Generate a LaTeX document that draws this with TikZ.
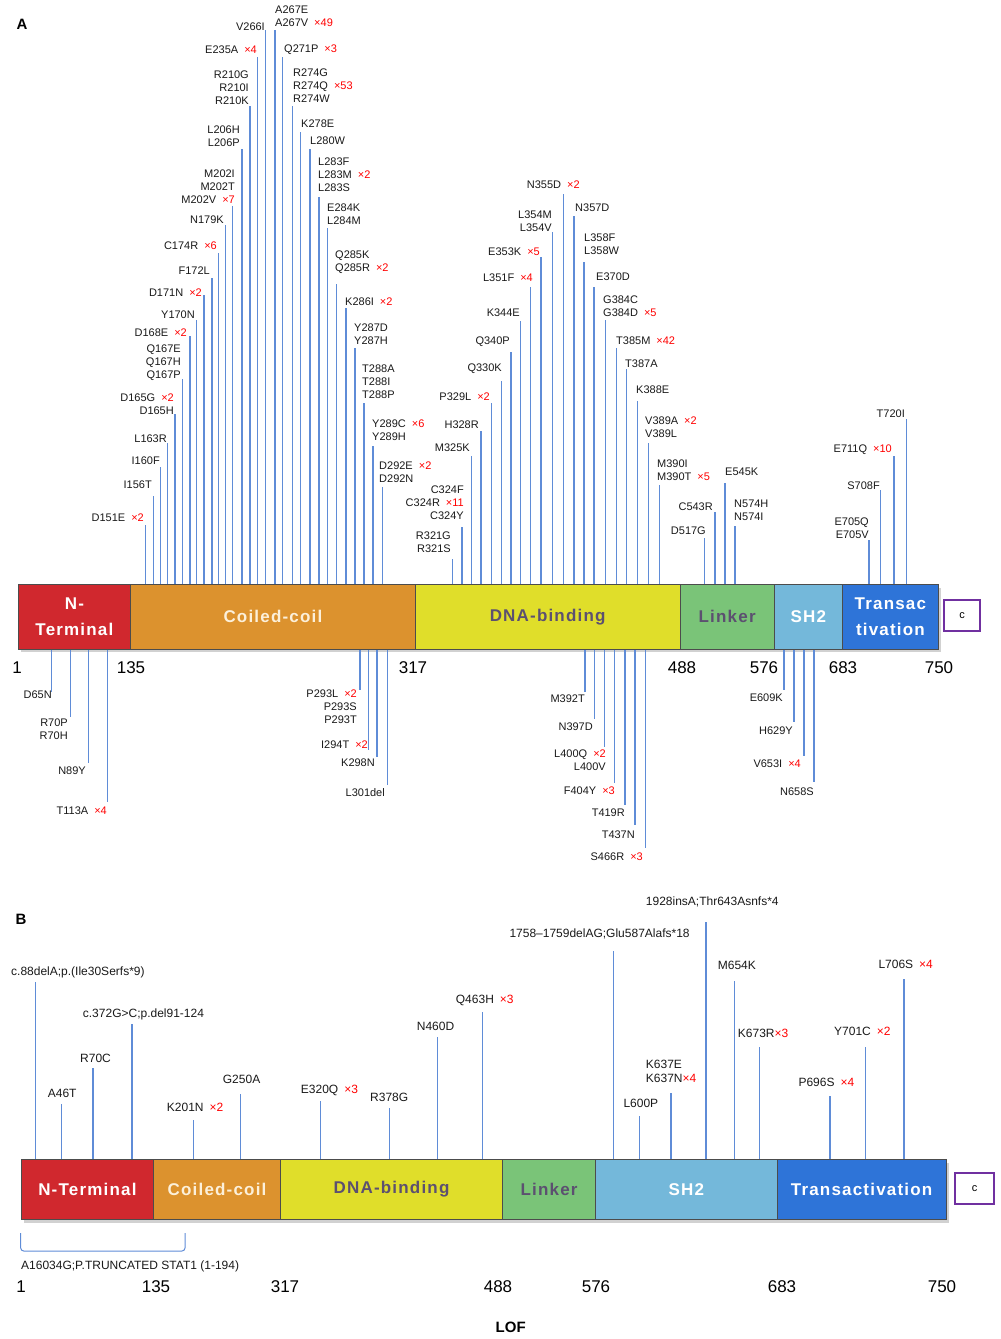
\documentclass[tikz,border=0pt]{standalone}
\usepackage{fontspec}
\setmainfont{Liberation Sans}
\newfontfamily\domfont[LetterSpace=7]{Liberation Sans}
\usepackage{tikz}

\definecolor{ntcol}{RGB}{208,40,46}
\definecolor{cccol}{RGB}{220,146,46}
\definecolor{dnacol}{RGB}{224,222,42}
\definecolor{lnkcol}{RGB}{122,196,120}
\definecolor{shcol}{RGB}{116,184,218}
\definecolor{tacol}{RGB}{46,116,216}
\definecolor{mutblue}{RGB}{95,140,215}
\definecolor{dupred}{RGB}{255,0,0}
\definecolor{cpurple}{RGB}{112,48,160}
\definecolor{dnatext}{RGB}{92,80,112}
\definecolor{cctext}{RGB}{252,240,218}

\newcommand{\dupl}[1]{\hspace{6pt}\textcolor{dupred}{×#1}}

\begin{document}
\begin{tikzpicture}[
			x=1pt, y=-1pt,
			mut/.style={draw=mutblue, line width=1.05pt},
			lbl/.style={inner sep=0pt, text=black!90, font=\fontsize{11}{13}\selectfont},
			lblb/.style={inner sep=0pt, text=black!90, font=\fontsize{12}{14}\selectfont},
			dom/.style={draw=black!70, line width=0.8pt, inner sep=0pt, anchor=north west, align=center, font=\domfont\bfseries\fontsize{17}{26}\selectfont},
			num/.style={inner sep=0pt, font=\fontsize{17}{20}\selectfont},
			cbox/.style={draw=cpurple, line width=1.3pt, fill=white, inner sep=0pt, font=\fontsize{11}{13}\selectfont},
			panel/.style={inner sep=0pt, font=\bfseries\fontsize{15}{15}\selectfont}
		]
		\useasboundingbox (0,0) rectangle (1001,1339);

		% panel A: domains
		\node[panel] (pA) at (22,24) {A};
		\fill[black!18] (21,588) rectangle (941,652);
		\node[dom, fill=ntcol, text=white, minimum width=112pt, minimum height=65pt] (ntA) at (18,584) {N-\\Terminal};
		\node[dom, fill=cccol, text=cctext, minimum width=285pt, minimum height=65pt] (ccA) at (130,584) {Coiled-coil};
		\node[dom, fill=dnacol, text=dnatext, minimum width=264.5pt, minimum height=65pt] (dnaA) at (415,584) {DNA-binding};
		\node[dom, fill=lnkcol, text=dnatext, minimum width=94.5pt, minimum height=65pt] (lnkA) at (679.5,584) {Linker};
		\node[dom, fill=shcol, text=white, minimum width=68pt, minimum height=65pt] (shA) at (774,584) {SH2};
		\node[dom, fill=tacol, text=white, minimum width=96pt, minimum height=65pt] (taA) at (842,584) {Transac\\tivation};
		\node[cbox, minimum width=36pt, minimum height=31pt] (cA) at (962,615.5) {c};

		% panel A: mutations above, label on the left
		\foreach \x/\y/\lx/\ly/\t [count=\i] in {
				265.7/30/265/31/{V266I},
				257.7/57/257/54/{E235A\dupl{4}},
				250/106/249/105/{R210G\\R210I\\R210K},
				242/149/240/147/{L206H\\L206P},
				232.7/206/235/204/{M202I\\M202T\\M202V\dupl{7}},
				225.7/225/224/224/{N179K},
				218.7/253/217/250/{C174R\dupl{6}},
				212/278/210/275/{F172L},
				204/295/202/297/{D171N\dupl{2}},
				196.7/320/195/319/{Y170N},
				190/336/187/337/{D168E\dupl{2}},
				182.7/379/181/381/{Q167E\\Q167H\\Q167P},
				175/414/174/415/{D165G\dupl{2}\\D165H},
				167.7/443/167/443/{L163R},
				160.3/467/160/465/{I160F},
				153.3/496/152/489/{I156T},
				145.7/525/144/522/{D151E\dupl{2}},
				452.3/559/451/553/{R321G\\R321S},
				462/527/464/520/{C324F\\C324R\dupl{11}\\C324Y},
				471.3/456/470/452/{M325K},
				481/431/479/429/{H328R},
				491.3/403/490/401/{P329L\dupl{2}},
				501.7/381/502/374/{Q330K},
				511/352/510/347/{Q340P},
				520.7/321/520/317/{K344E},
				530.7/287/533/282/{L351F\dupl{4}},
				541/257/540/256/{E353K\dupl{5}},
				552.7/232/552/232/{L354M\\L354V},
				704.7/538/706/535/{D517G},
				715/512/713/511/{C543R},
				869/540/869/539/{E705Q\\E705V},
				880.7/490/880/490/{S708F},
				894/456/892/455/{E711Q\dupl{10}},
				906.7/419/905/418/{T720I}} {
				\coordinate (ua\i) at (\x,\y);
				\draw[mut] (ua\i |- ntA.north) -- (ua\i);
				\node[lbl, anchor=south east, align=right] (lua\i) at (\lx,\ly) {\t};
			}

		% panel A: mutations above, label on the right
		\foreach \x/\y/\lx/\ly/\t [count=\i] in {
				275/30/275/27/{A267E\\A267V\dupl{49}},
				282.7/57/284/55/{Q271P\dupl{3}},
				292.7/106/293/103/{R274G\\R274Q\dupl{53}\\R274W},
				300.7/132/301/128/{K278E},
				310/149/310/145/{L280W},
				319/197/318/192/{L283F\\L283M\dupl{2}\\L283S},
				327.7/228/327/225/{E284K\\L284M},
				336.7/284/335/274/{Q285K\\Q285R\dupl{2}},
				346/308/345/306/{K286I\dupl{2}},
				355/348/354/345/{Y287D\\Y287H},
				364/403/362/399/{T288A\\T288I\\T288P},
				373/446/372/441/{Y289C\dupl{6}\\Y289H},
				382.7/487/379/483/{D292E\dupl{2}\\D292N},
				574/216/575/212/{N357D},
				584/262/584/255/{L358F\\L358W},
				594/287/596/281/{E370D},
				605.7/320/603/317/{G384C\\G384D\dupl{5}},
				616.7/348/616/345/{T385M\dupl{42}},
				626.7/369/625/368/{T387A},
				637.7/401/636/394/{K388E},
				648.7/443/645/438/{V389A\dupl{2}\\V389L},
				659.7/485/657/481/{M390I\\M390T\dupl{5}},
				725/483/725/476/{E545K},
				735/526/734/521/{N574H\\N574I}} {
				\coordinate (ub\i) at (\x,\y);
				\draw[mut] (ub\i |- ntA.north) -- (ub\i);
				\node[lbl, anchor=south west, align=left] (lub\i) at (\lx,\ly) {\t};
			}

		\coordinate (n355) at (563.7,194);
		\draw[mut] (n355 |- ntA.north) -- (n355);
		\node[lbl, anchor=south west] (ln355) at (526.7,189) {N355D\dupl{2}};

		% panel A: mutations below
		\foreach \x/\y/\lx/\ly/\t [count=\i] in {
				51.7/692/52/691/{D65N},
				70.3/717/68/719/{R70P\\R70H},
				88.7/763/86/767/{N89Y},
				107.3/802/107/807/{T113A\dupl{4}},
				360/690/357/690/{P293L\dupl{2}\\P293S\\P293T},
				368.3/750/368/741/{I294T\dupl{2}},
				377/757/375/759/{K298N},
				387.3/785/385/788/{L301del},
				585/692/585/695/{M392T},
				594.3/719/593/723/{N397D},
				604.7/747/606/750/{L400Q\dupl{2}\\L400V},
				614.7/783/615/787/{F404Y\dupl{3}},
				625/805/625/809/{T419R},
				635/825/635/831/{T437N},
				645.3/848/643/853/{S466R\dupl{3}},
				784/690/783/694/{E609K},
				794/722/793/727/{H629Y},
				804/756/801/760/{V653I\dupl{4}},
				814/782/814/788/{N658S}} {
				\coordinate (da\i) at (\x,\y);
				\draw[mut] (da\i |- ntA.south) -- (da\i);
				\node[lbl, anchor=north east, align=right] (lda\i) at (\lx,\ly) {\t};
			}

		% panel A: residue numbers
		\foreach \x/\v [count=\i] in {17/1,131/135,413/317,682/488,764/576,843/683,939/750} {
				\node[num] (nA\i) at (\x,668) {\v};
			}

		% panel B: domains
		\node[panel] (pB) at (21,919) {B};
		\fill[black!18] (23.7,1163) rectangle (948.7,1223);
		\node[dom, fill=ntcol, text=white, minimum width=132.6pt, minimum height=60pt] (ntB) at (20.7,1159) {N-Terminal};
		\node[dom, fill=cccol, text=cctext, minimum width=126.7pt, minimum height=60pt] (ccB) at (153.3,1159) {Coiled-coil};
		\node[dom, fill=dnacol, text=dnatext, minimum width=222.3pt, minimum height=60pt] (dnaB) at (280,1159) {DNA-binding};
		\node[dom, fill=lnkcol, text=dnatext, minimum width=92.7pt, minimum height=60pt] (lnkB) at (502.3,1159) {Linker};
		\node[dom, fill=shcol, text=white, minimum width=181.7pt, minimum height=60pt] (shB) at (595,1159) {SH2};
		\node[dom, fill=tacol, text=white, minimum width=169pt, minimum height=60pt] (taB) at (776.7,1159) {Transactivation};
		\node[cbox, minimum width=39pt, minimum height=31pt] (cB) at (974.5,1188.5) {c};

		% panel B: mutations
		\foreach \x/\y/\lx/\ly/\t [count=\i] in {
				35.7/982/11/975/{c.88delA;p.(Ile30Serfs*9)},
				61.7/1104/47.7/1097/{A46T},
				93/1068/80/1062/{R70C},
				132/1024/82.7/1017/{c.372G>C;p.del91-124},
				193.3/1120/166.7/1111/{K201N\dupl{2}},
				240.7/1094/222.7/1083/{G250A},
				320.7/1101/300.7/1093/{E320Q\dupl{3}},
				389.3/1108/370/1101/{R378G},
				437.7/1037/416.7/1030/{N460D},
				482.7/1012/455.7/1003/{Q463H\dupl{3}},
				613.3/951/509.3/937/{1758–1759delAG;Glu587Alafs*18},
				639.3/1116/623.3/1107/{L600P},
				706/922/645.7/905/{1928insA;Thr643Asnfs*4},
				734.3/981/717.7/969/{M654K},
				759.3/1047/737.7/1037/{K673R\textcolor{dupred}{×3}},
				830/1096/798.3/1086/{P696S\dupl{4}},
				865.7/1047/834/1035/{Y701C\dupl{2}},
				904/979/878.3/968/{L706S\dupl{4}}} {
				\coordinate (ma\i) at (\x,\y);
				\draw[mut] (ma\i |- ntB.north) -- (ma\i);
				\node[lblb, anchor=base west] (lma\i) at (\lx,\ly) {\t};
			}

		\coordinate (k637) at (671,1093);
		\draw[mut] (k637 |- ntB.north) -- (k637);
		\node[lblb, anchor=south west, align=left] (lk637) at (645.7,1083) {K637E\\K637N\textcolor{dupred}{×4}};

		% truncated form
		\coordinate (brL) at (20.7,1233);
		\coordinate (brR) at (185,1233);
		\draw[mut, line width=1pt, rounded corners=3pt] (brL) -- ++(0,18) -| (brR);
		\node[lblb, anchor=base west] (trunc) at (21,1269) {A16034G;P.TRUNCATED STAT1 (1-194)};

		% panel B: residue numbers
		\foreach \x/\v [count=\i] in {21/1,156/135,285/317,498/488,596/576,782/683,942/750} {
				\node[num] (nB\i) at (\x,1287) {\v};
			}

		\node[panel] (lof) at (510.7,1327) {LOF};
	\end{tikzpicture}
\end{document}
